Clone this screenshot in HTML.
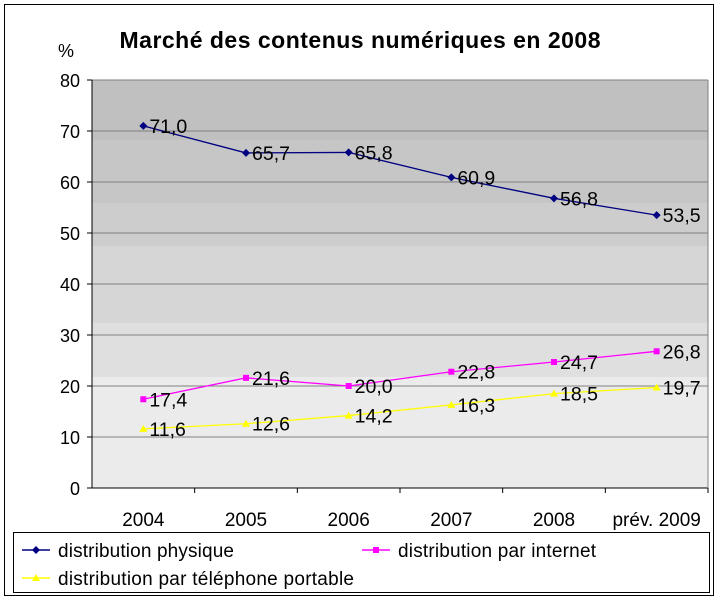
<!DOCTYPE html>
<html><head><meta charset="utf-8"><style>
body{margin:0;background:#fff;}
svg{display:block;font-family:"Liberation Sans",Arial,sans-serif;}
</style></head><body>
<svg id="c" width="719" height="601">
<rect x="4.5" y="4.5" width="709" height="591" fill="#fff" stroke="#000"/>
<text x="360" y="48" text-anchor="middle" font-size="23" font-weight="bold" textLength="481">Marché des contenus numériques en 2008</text>
<text x="66" y="57" text-anchor="middle" font-size="18">%</text>
<g id="bg"></g><g id="grid"></g><g id="axes"></g><g id="series"></g>
<g>
<rect x="13.5" y="532.5" width="696" height="60" fill="#fff" stroke="#000"/>
<g>
<line x1="22" y1="550" x2="50" y2="550" stroke="#000080" stroke-width="1.5"/><path d="M36 546 L40 550 L36 554 L32 550Z" fill="#000080"/>
<text x="58" y="557" font-size="19" textLength="176">distribution physique</text></g>
<g>
<line x1="362" y1="550" x2="390" y2="550" stroke="#ff00ff" stroke-width="1.5"/><rect x="373" y="547" width="6" height="6" fill="#ff00ff"/>
<text x="398" y="557" font-size="19" textLength="198">distribution par internet</text></g>
<g>
<line x1="22" y1="578" x2="50" y2="578" stroke="#ffff00" stroke-width="1.5"/><path d="M36 574 L40 581 L32 581Z" fill="#ffff00"/>
<text x="58" y="585" font-size="19" textLength="296">distribution par téléphone portable</text></g>
</g>
</svg>
<script>
const categories=["2004","2005","2006","2007","2008","prév. 2009"];
const physique=[71.0,65.7,65.8,60.9,56.8,53.5];
const internet=[17.4,21.6,20.0,22.8,24.7,26.8];
const telephone=[11.6,12.6,14.2,16.3,18.5,19.7];
const yTicks=[0,10,20,30,40,50,60,70,80];
const L=92,R=708,T=80,B=488,yMax=80;
const NS="http://www.w3.org/2000/svg";
const xs=i=>L+(R-L)/categories.length*(i+0.5);
const ys=v=>B-(B-T)*v/yMax;
function mk(tag,attrs,parent){const e=document.createElementNS(NS,tag);for(const k in attrs)e.setAttribute(k,attrs[k]);document.getElementById(parent).appendChild(e);return e;}
const bands=[[80,140,"#c0c0c0"],[140,203,"#c6c6c6"],[203,246,"#cdcdcd"],[246,323,"#d6d6d6"],[323,377,"#dfdfdf"],[377,488,"#ebebeb"]];
bands.forEach(b=>{const r=mk("rect",{x:L,y:b[0],width:R-L,height:b[1]-b[0],fill:b[2]},"bg");

});
yTicks.forEach(t=>{const y=ys(t);
if(t>0){const g=mk("line",{x1:L,x2:R,y1:y,y2:y,stroke:"#808080"},"grid");

}
mk("line",{x1:L-5,x2:L,y1:y,y2:y,stroke:"#000"},"axes");
const tx=mk("text",{x:L-12,y:y+7,"text-anchor":"end","font-size":"18"},"axes");tx.textContent=t;

});
mk("line",{x1:L,x2:L,y1:T,y2:B,stroke:"#000"},"axes");
mk("line",{x1:L,x2:R,y1:B,y2:B,stroke:"#000"},"axes");
mk("line",{x1:R,x2:R,y1:T,y2:B,stroke:"#808080"},"axes");
categories.forEach((c,i)=>{const w=(R-L)/categories.length;
mk("line",{x1:L+w*(i+1),x2:L+w*(i+1),y1:B,y2:B+5,stroke:"#000"},"axes");
const tx=mk("text",{x:xs(i),y:526,"text-anchor":"middle","font-size":"19"},"axes");tx.textContent=c;

});
function series(vals,color,shape,name){
const pl=mk("polyline",{points:vals.map((v,i)=>xs(i)+","+ys(v)).join(" "),fill:"none",stroke:color,"stroke-width":"1.3"},"series");


vals.forEach((v,i)=>{const x=xs(i),y=ys(v);let m;
if(shape==="d")m=mk("path",{d:`M${x} ${y-4}L${x+4} ${y}L${x} ${y+4}L${x-4} ${y}Z`,fill:color},"series");
else if(shape==="s")m=mk("rect",{x:x-3,y:y-3,width:6,height:6,fill:color},"series");
else m=mk("path",{d:`M${x} ${y-4}L${x+4} ${y+3}L${x-4} ${y+3}Z`,fill:color},"series");


const t=mk("text",{x:x+6,y:y+7,"font-size":"19.5"},"series");t.textContent=v.toFixed(1).replace(".",",");

});}
series(physique,"#000080","d","physique");
series(internet,"#ff00ff","s","internet");
series(telephone,"#ffff00","t","telephone");
</script>
</body></html>
